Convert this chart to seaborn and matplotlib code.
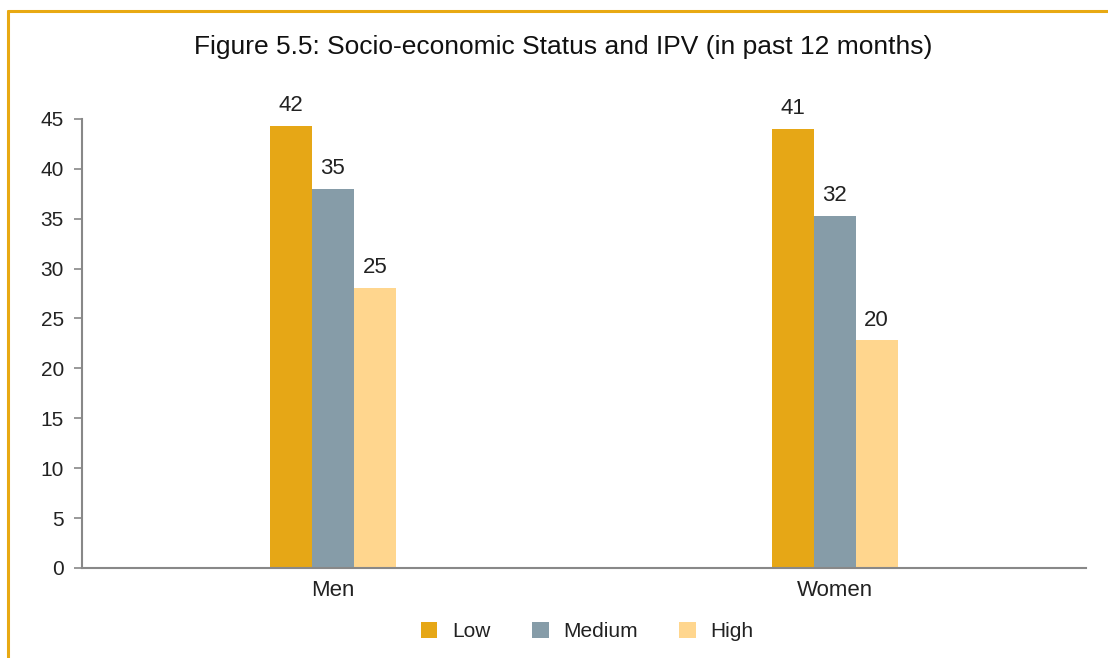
import pandas as pd
import matplotlib.pyplot as plt
import seaborn as sns
from matplotlib.patches import Patch
from matplotlib.lines import Line2D

groups = ['Men', 'Women']
levels = ['Low', 'Medium', 'High']
# bar heights as drawn in the picture
low_heights = [44.3, 44.0]
medium_heights = [38.0, 35.3]
high_heights = [28.1, 22.8]
# printed labels on the bars
low_labels = ['42', '41']
medium_labels = ['35', '32']
high_labels = ['25', '20']
colors = ['#E6A716', '#869CA8', '#FFD68E']

df = pd.DataFrame({
    'group': groups * 3,
    'status': [l for l in levels for _ in groups],
    'value': low_heights + medium_heights + high_heights,
})

sns.set_style('white')
plt.rcParams['font.family'] = ['Liberation Sans', 'DejaVu Sans']

fig = plt.figure(figsize=(11.08, 6.58), dpi=100)
ax = fig.add_axes([0.074, 0.1368, 0.906, 0.6825])

sns.barplot(data=df, x='group', y='value', hue='status', hue_order=levels,
            palette=colors, width=0.25, saturation=1, legend=False,
            linewidth=0, ax=ax)

text_col = '#222222'
for cont, labs in zip(ax.containers, [low_labels, medium_labels, high_labels]):
    ax.bar_label(cont, labels=labs, padding=7, fontsize=16, color=text_col)

ax.set_ylim(0, 45)
ax.set_xlim(-0.5, 1.5)
ax.set_yticks(range(0, 46, 5))
ax.set_xlabel('')
ax.set_ylabel('')
ax.set_xticks([-0.5, 0.5, 1.5], minor=True)
ax.tick_params(axis='x', which='major', length=0, pad=9, labelsize=16, labelcolor=text_col)
ax.tick_params(axis='x', which='minor', length=6, width=1.2, color='#888888', direction='out')
ax.tick_params(axis='y', length=6, width=1.2, color='#888888', pad=7, labelsize=15,
               labelcolor=text_col, left=True)
for s in ['top', 'right']:
    ax.spines[s].set_visible(False)
for s in ['left', 'bottom']:
    ax.spines[s].set_color('#888888')
    ax.spines[s].set_linewidth(1.5)

fig.text(0.508, 0.928, 'Figure 5.5: Socio-economic Status and IPV (in past 12 months)',
         ha='center', va='center', fontsize=19, color='#111111')

handles = [Patch(facecolor=c, edgecolor='none', label=l) for c, l in zip(colors, levels)]
fig.legend(handles=handles, loc='center', bbox_to_anchor=(0.530, 0.04), ncol=3,
           frameon=False, fontsize=15, handlelength=0.8, handleheight=0.8,
           handletextpad=0.7, columnspacing=2.0, labelcolor=text_col)

# orange frame around the figure (top and left edges visible)
frame_col = '#E8A913'
fig.add_artist(Line2D([0.0075, 1.0], [0.983, 0.983], color=frame_col, lw=2.2,
                      transform=fig.transFigure))
fig.add_artist(Line2D([0.0075, 0.0075], [0.0, 0.983], color=frame_col, lw=2.2,
                      transform=fig.transFigure))

fig.savefig('out.png', dpi=100)
